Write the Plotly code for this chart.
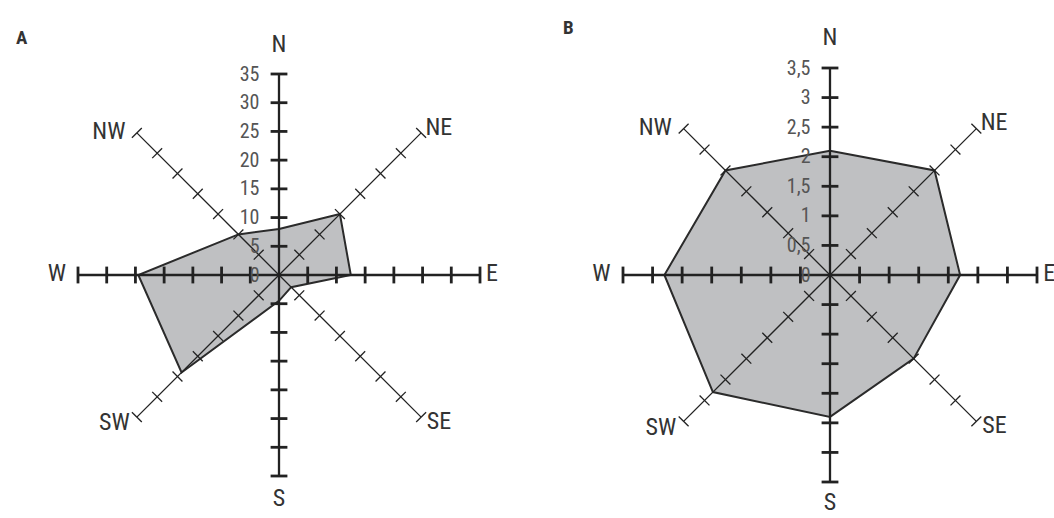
import plotly.graph_objects as go

# Wind directions (clockwise from north)
directions = ["N", "NE", "E", "SE", "S", "SW", "W", "NW"]
bearings = [0, 45, 90, 135, 180, 225, 270, 315]

# Panel A: frequencies
values_a = [8, 15, 12.5, 3, 4.5, 24, 24.5, 10]
ticks_a = [0, 5, 10, 15, 20, 25, 30, 35]
ticklabels_a = ["0", "5", "10", "15", "20", "25", "30", "35"]

# Panel B: speeds
values_b = [2.1, 2.5, 2.2, 2.0, 2.4, 2.8, 2.8, 2.5]
ticks_b = [0, 0.5, 1, 1.5, 2, 2.5, 3, 3.5]
ticklabels_b = ["0", "0,5", "1", "1,5", "2", "2,5", "3", "3,5"]

FONT = "Liberation Sans Narrow, Arial Narrow, Roboto Condensed, Liberation Sans, sans-serif"
W, H = 1054, 518
PAD = 1.08  # radial room left outside the spokes for the compass labels

# where each compass label sits relative to the end of its spoke
LABEL_STYLE = {
    "N": (1.08, "top center"),
    "NE": (1.03, "middle right"),
    "E": (1.03, "middle right"),
    "SE": (1.04, "middle right"),
    "S": (1.06, "bottom center"),
    "SW": (1.05, "middle left"),
    "W": (1.06, "middle left"),
    "NW": (1.08, "bottom left"),
}


def domain(cx, cy, r):
    r = r * PAD
    return dict(x=[max(0, (cx - r) / W), min(1, (cx + r) / W)],
                y=[max(0, (H - cy - r) / H), min(1, (H - cy + r) / H)])


fig = go.Figure()


def add_rose(subplot, values, ticks, label_style):
    rmax = ticks[-1]
    # filled polygon
    fig.add_trace(go.Scatterpolar(
        r=values + [values[0]], theta=directions + [directions[0]],
        mode="lines", fill="toself", fillcolor="#bfc0c2",
        line=dict(color="#2b2b2b", width=2), subplot=subplot,
        hoverinfo="skip", showlegend=False))
    # spokes with cross ticks
    for d, b in zip(directions, bearings):
        cardinal = b % 90 == 0
        fig.add_trace(go.Scatterpolar(
            r=[0, rmax], theta=[d, d], mode="lines",
            line=dict(color="#222222", width=2.3 if cardinal else 1.3),
            subplot=subplot, hoverinfo="skip", showlegend=False))
        tr = ticks[1:]
        fig.add_trace(go.Scatterpolar(
            r=tr, theta=[d] * len(tr), mode="markers",
            marker=dict(symbol="line-ew", size=12 if cardinal else 10,
                        angle=b, color="#222222",
                        line=dict(color="#222222", width=2.8 if cardinal else 1.3)),
            subplot=subplot, hoverinfo="skip", showlegend=False))
    # compass labels beyond the spoke ends
    for d in directions:
        k, pos = label_style[d]
        fig.add_trace(go.Scatterpolar(
            r=[rmax * k], theta=[d], mode="text", text=[d],
            textposition=pos, cliponaxis=False,
            textfont=dict(family=FONT, size=24, color="#333333"),
            subplot=subplot, hoverinfo="skip", showlegend=False))


add_rose("polar", values_a, ticks_a, LABEL_STYLE)
add_rose("polar2", values_b, ticks_b, {**LABEL_STYLE, "S": (1.05, "bottom center")})


def polar_layout(dom, ticks, ticklabels):
    return dict(
        domain=dom, bgcolor="white",
        angularaxis=dict(type="category", categoryarray=directions,
                         rotation=90, direction="clockwise",
                         showgrid=False, showline=False, ticks="",
                         showticklabels=False),
        radialaxis=dict(range=[0, ticks[-1] * PAD], angle=90, tickangle=90,
                        side="counterclockwise", showgrid=False,
                        showline=False, ticks="outside", ticklen=12,
                        tickcolor="rgba(0,0,0,0)", tickvals=ticks,
                        ticktext=ticklabels,
                        tickfont=dict(family=FONT, size=20, color="#555555")))


fig.update_layout(
    width=W, height=H, margin=dict(l=0, r=0, t=0, b=0),
    paper_bgcolor="white", plot_bgcolor="white",
    polar=polar_layout(domain(279, 275, 201), ticks_a, ticklabels_a),
    polar2=polar_layout(domain(830, 275, 207), ticks_b, ticklabels_b),
    annotations=[
        dict(text="<b>A</b>", x=22 / W, y=1 - 38 / H, xref="paper", yref="paper",
             xanchor="center", yanchor="middle", showarrow=False,
             font=dict(family=FONT, size=19, color="#333333")),
        dict(text="<b>B</b>", x=568 / W, y=1 - 27 / H, xref="paper", yref="paper",
             xanchor="center", yanchor="middle", showarrow=False,
             font=dict(family=FONT, size=19, color="#333333")),
    ],
)

fig.write_html("out.html")
